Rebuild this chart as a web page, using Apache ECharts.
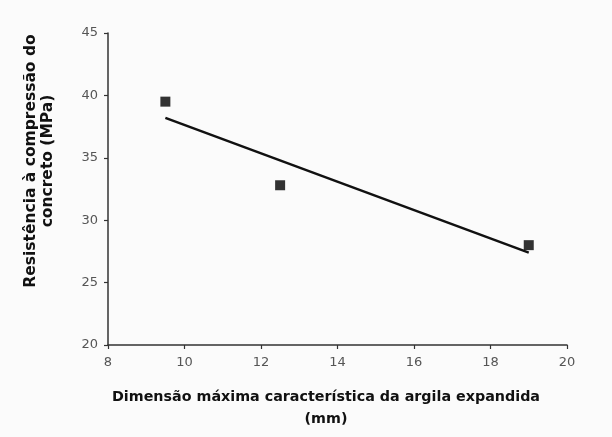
<!DOCTYPE html>
<html>
<head>
<meta charset="utf-8">
<script src="https://cdn.jsdelivr.net/npm/echarts@6/dist/echarts.min.js"></script>
<style>html,body{margin:0;padding:0;background:#fbfbfb;}#c{width:612px;height:437px;}</style>
</head>
<body>
<div id="c"></div>
<script>
var xTitle = ['Dimensão máxima característica da argila expandida', '(mm)'];
var yTitle = ['Resistência à compressão do', 'concreto (MPa)'];
var xTicks = [8, 20, 2];
var yTicks = [20, 45, 5];
var pointsX = [9.5, 12.5, 19];
var pointsY = [39.5, 32.8, 28];
var trendX = [9.5, 19];
var trendY = [38.2, 27.4];

var chart = echarts.init(document.getElementById('c'), null, {renderer: 'canvas'});
var axisTxt = {color: '#555', fontFamily: 'DejaVu Sans', fontSize: 13};
chart.setOption({
  backgroundColor: '#fbfbfb',
  animation: false,
  grid: {left: 108, right: 45, top: 33, bottom: 92},
  xAxis: {
    type: 'value', min: xTicks[0], max: xTicks[1], interval: xTicks[2],
    axisLine: {lineStyle: {color: '#333', width: 1.5}},
    axisTick: {show: true, length: 4, lineStyle: {color: '#333', width: 1.2}},
    axisLabel: Object.assign({margin: 11}, axisTxt),
    splitLine: {show: false}
  },
  yAxis: {
    type: 'value', min: yTicks[0], max: yTicks[1], interval: yTicks[2],
    axisLine: {show: true, lineStyle: {color: '#333', width: 1.5}},
    axisTick: {show: true, length: 4, lineStyle: {color: '#333', width: 1.2}},
    axisLabel: Object.assign({margin: 10}, axisTxt),
    splitLine: {show: false}
  },
  graphic: [
    {type: 'text', style: {text: xTitle[0], font: 'bold 14.3px "DejaVu Sans"', fill: '#111', textAlign: 'center', textVerticalAlign: 'middle'}, x: 326, y: 397},
    {type: 'text', style: {text: xTitle[1], font: 'bold 14.3px "DejaVu Sans"', fill: '#111', textAlign: 'center', textVerticalAlign: 'middle'}, x: 326, y: 419},
    {type: 'text', rotation: Math.PI / 2, style: {text: yTitle[0], font: 'bold 15.5px "DejaVu Sans"', fill: '#111', textAlign: 'center', textVerticalAlign: 'middle'}, x: 31, y: 161},
    {type: 'text', rotation: Math.PI / 2, style: {text: yTitle[1], font: 'bold 15.5px "DejaVu Sans"', fill: '#111', textAlign: 'center', textVerticalAlign: 'middle'}, x: 48, y: 161}
  ],
  series: [
    {
      type: 'line', data: trendX.map(function (x, i) { return [x, trendY[i]]; }),
      symbol: 'none', lineStyle: {color: '#111', width: 2.5}, z: 2
    },
    {
      type: 'scatter', data: pointsX.map(function (x, i) { return [x, pointsY[i]]; }),
      symbol: 'rect', symbolSize: 10, itemStyle: {color: '#000'}, z: 3
    }
  ]
});
</script>
</body>
</html>
